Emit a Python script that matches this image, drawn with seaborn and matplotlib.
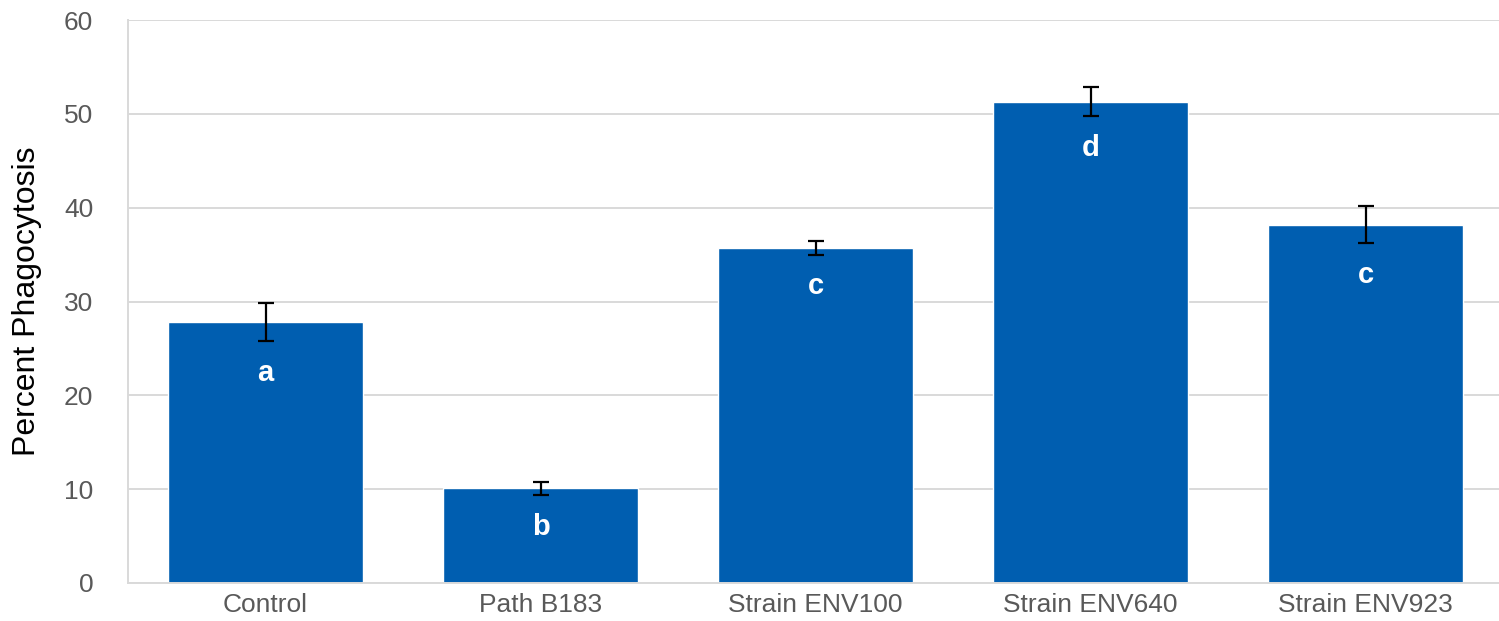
import matplotlib
matplotlib.use("Agg")
import matplotlib.pyplot as plt
import seaborn as sns
import pandas as pd

# Phagocytosis by treatment group
groups = ["Control", "Path B183", "Strain ENV100", "Strain ENV640", "Strain ENV923"]
percent = [27.8, 10.1, 35.7, 51.3, 38.2]
sem = [2.0, 0.68, 0.7, 1.55, 2.0]
letters = ["a", "b", "c", "d", "c"]

df = pd.DataFrame({"group": groups, "percent": percent})

sns.set_theme(style="white")
plt.rcParams["font.family"] = ["Liberation Sans", "DejaVu Sans"]

fig = plt.figure(figsize=(14.99, 6.21), dpi=100)
ax = fig.add_axes([128 / 1499, 38 / 621, 1375 / 1499, 563 / 621])

bar_color = "#005EB0"
sns.barplot(data=df, x="group", y="percent", color=bar_color, saturation=1,
            width=0.71, ax=ax, zorder=2)

xs = list(range(len(groups)))
ax.errorbar(xs, percent, yerr=sem, fmt="none", ecolor="black",
            elinewidth=1.6, capsize=5.8, capthick=1.6, zorder=3)

# significance letters just below each error bar
for x, v, e, s in zip(xs, percent, sem, letters):
    ax.text(x, v - e - 3.4, s, ha="center", va="center", color="white",
            fontsize=21, fontweight="bold", zorder=4)

ax.set_ylim(0, 60)
ax.set_xlim(-0.5, 4.5)
ax.set_yticks(range(0, 61, 10))
ax.yaxis.grid(True, color="#d9d9d9", linewidth=1.4, zorder=0)
ax.set_axisbelow(True)

for side in ["top", "right"]:
    ax.spines[side].set_visible(False)
for side in ["left", "bottom"]:
    ax.spines[side].set_color("#d9d9d9")
    ax.spines[side].set_linewidth(1.4)

ax.tick_params(axis="both", length=0, labelsize=19, labelcolor="#595959")
ax.tick_params(axis="y", pad=25)
ax.tick_params(axis="x", pad=7)
for lbl in ax.get_yticklabels():
    lbl.set_horizontalalignment("right")

ax.set_xlabel("")
ax.set_ylabel("Percent Phagocytosis", fontsize=23, color="black", labelpad=16)

fig.savefig("out.png", dpi=100)
